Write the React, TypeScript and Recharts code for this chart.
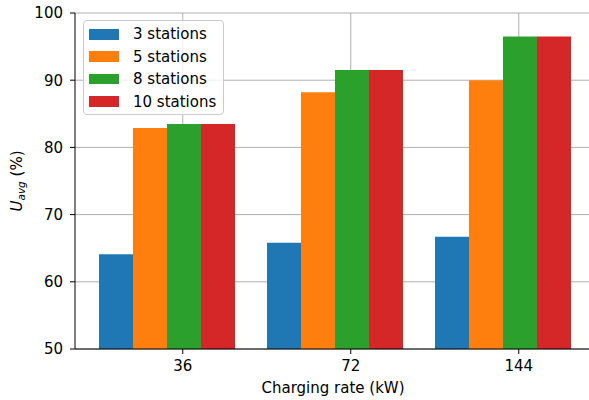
import { BarChart, Bar, XAxis, YAxis, CartesianGrid, Legend, Label } from 'recharts'

const categories = ['36', '72', '144']
const stations3 = [64.1, 65.8, 66.7]
const stations5 = [82.9, 88.2, 90.0]
const stations8 = [83.5, 91.5, 96.5]
const stations10 = [83.5, 91.5, 96.5]
const yTicks = [50, 60, 70, 80, 90, 100]

const series = [
  { key: 's3', name: '3 stations', color: '#1f77b4', values: stations3 },
  { key: 's5', name: '5 stations', color: '#ff7f0e', values: stations5 },
  { key: 's8', name: '8 stations', color: '#2ca02c', values: stations8 },
  { key: 's10', name: '10 stations', color: '#d62728', values: stations10 },
]

const data = categories.map((rate, i) => {
  const row: Record<string, string | number> = { rate }
  series.forEach(s => { row[s.key] = s.values[i] })
  return row
})

const FONT = '"DejaVu Sans", sans-serif'
const FS = 15
const GAP = 17 // barCategoryGap in px

// matplotlib puts the tick under the 3rd bar, not the group centre
const barShift = (bandSize: number) => ((bandSize - 2 * GAP) / series.length) / 2

const XTick = (props: any) => {
  const { x, y, payload } = props
  const band = payload?.offset ? payload.offset * 2 : 168
  const cx = x + barShift(band)
  return (
    <g>
      <line x1={cx} x2={cx} y1={y} y2={y + 5} stroke="#000" strokeWidth={1} />
      <text x={cx} y={y + 22} textAnchor="middle" fontSize={FS} fontFamily={FONT} fill="#000">
        {payload.value}
      </text>
    </g>
  )
}

const YTick = (props: any) => {
  const { x, y, payload } = props
  return (
    <text x={x} y={y} dy="0.36em" textAnchor="end" fontSize={FS} fontFamily={FONT} fill="#000">
      {payload.value}
    </text>
  )
}

const gridX = ({ xAxis }: any) => {
  const scale = xAxis?.scale
  if (!scale) return []
  const bw = typeof scale.bandwidth === 'function' ? scale.bandwidth() : 168
  const pos = (c: string) => (typeof scale === 'function' ? scale(c) : scale.map(c))
  return categories.map(c => pos(c) + bw / 2 + barShift(bw))
}

const YLabel = () => (
  <text transform="rotate(-90, 22, 181)" x={22} y={181} textAnchor="middle" fontSize={FS} fontFamily={FONT} fill="#000">
    <tspan fontStyle="italic">U</tspan>
    <tspan fontStyle="italic" fontSize={10.5} dy={3}>avg</tspan>
    <tspan dy={-3}> (%)</tspan>
  </text>
)

const XLabel = (props: any) => {
  const vb = props.viewBox || { x: 75, y: 349, width: 514 }
  return (
    <text x={vb.x + vb.width / 2 + 1} y={vb.y + 44} textAnchor="middle" fontSize={FS} fontFamily={FONT} fill="#000">
      Charging rate (kW)
    </text>
  )
}

const LegendBox = () => (
  <div
    style={{
      position: 'relative',
      width: 141,
      height: 95,
      boxSizing: 'border-box',
      border: '1px solid #cccccc',
      borderRadius: 4,
      background: 'rgba(255,255,255,0.8)',
      fontFamily: FONT,
      fontSize: FS,
      color: '#000',
    }}
  >
    {series.map((s, i) => (
      <div key={s.key} style={{ position: 'absolute', left: 0, top: 13.3 + i * 22.4 - 11, height: 22, display: 'flex', alignItems: 'center' }}>
        <span style={{ display: 'inline-block', marginLeft: 5, width: 30, height: 10.5, background: s.color }} />
        <span style={{ marginLeft: 14, whiteSpace: 'nowrap', lineHeight: '22px' }}>{s.name}</span>
      </div>
    ))}
  </div>
)

export default function App() {
  return (
    <div style={{ width: 589, height: 400 }}>
      <style>{'body{margin:0}'}</style>
      <BarChart
        width={589}
        height={400}
        data={data}
        margin={{ top: 13, right: 0, bottom: 0, left: 0 }}
        barCategoryGap={GAP}
        barGap={0}
      >
        <CartesianGrid stroke="#b0b0b0" strokeWidth={1} verticalCoordinatesGenerator={gridX} />
        <XAxis
          dataKey="rate"
          height={51}
          padding={{ left: 7, right: 3 }}
          axisLine={{ stroke: '#000' }}
          tickLine={false}
          tickSize={0}
          tickMargin={0}
          tick={<XTick />}
          interval={0}
        >
          <Label content={<XLabel />} />
        </XAxis>
        <YAxis
          width={75}
          domain={[50, 100]}
          ticks={yTicks}
          allowDataOverflow
          axisLine={{ stroke: '#000' }}
          tickLine={{ stroke: '#000' }}
          tickSize={5}
          tickMargin={7}
          tick={<YTick />}
          label={<YLabel />}
        />
        <Legend
          layout="horizontal"
          verticalAlign="middle"
          align="center"
          width={141}
          height={95}
          wrapperStyle={{ left: 83, top: 20 }}
          content={<LegendBox />}
        />
        {series.map(s => (
          <Bar key={s.key} dataKey={s.key} name={s.name} fill={s.color} isAnimationActive={false} />
        ))}
      </BarChart>
    </div>
  )
}
